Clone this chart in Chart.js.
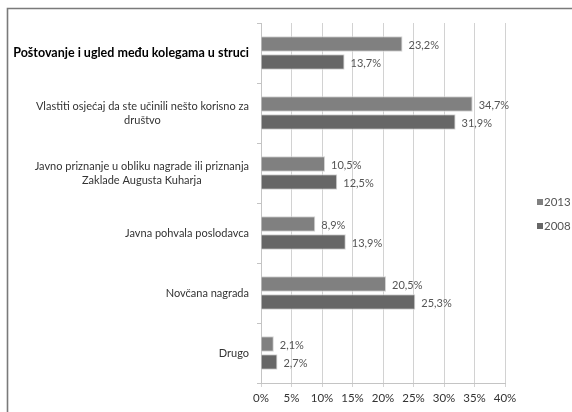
<!DOCTYPE html>
<html>
<head>
<meta charset="utf-8">
<script src="https://cdn.jsdelivr.net/npm/chart.js@4/dist/chart.umd.min.js"></script>
<style>
  html, body { margin: 0; padding: 0; background: #fff; }
  #wrap { position: relative; width: 572px; height: 412px; }
</style>
</head>
<body>
<div id="wrap"><canvas id="nagradeChart" width="572" height="412"></canvas></div>
<script>
// Kategorije (višeredne oznake kao polja)
const kategorije = [
  ["Poštovanje i ugled među kolegama u struci"],
  ["Vlastiti osjećaj da ste učinili nešto korisno za", "društvo"],
  ["Javno priznanje u obliku nagrade ili priznanja", "Zaklade Augusta Kuharja"],
  ["Javna pohvala poslodavca"],
  ["Novčana nagrada"],
  ["Drugo"],
];

const vrijednosti2013 = [23.2, 34.7, 10.5, 8.9, 20.5, 2.1];
const vrijednosti2008 = [13.7, 31.9, 12.5, 13.9, 25.3, 2.7];

const xOznake = [0, 5, 10, 15, 20, 25, 30, 35, 40];

const FONT = "Lato, 'Liberation Sans', sans-serif";

// Okvir oko grafikona
const okvirPlugin = {
  id: "okvir",
  afterDraw(chart) {
    const ctx = chart.ctx;
    ctx.save();
    ctx.strokeStyle = "#7a7a7a";
    ctx.lineWidth = 1.6;
    ctx.beginPath();
    ctx.moveTo(7.5, 412);
    ctx.lineTo(7.5, 8.5);
    ctx.lineTo(572, 8.5);
    ctx.stroke();
    ctx.restore();
  },
};

// Oznake kategorija: blok poravnat desno, redovi centrirani unutar bloka
const oznakePlugin = {
  id: "oznake",
  afterDraw(chart) {
    const ctx = chart.ctx;
    const y = chart.scales.y;
    const desno = y.right - 12;
    ctx.save();
    ctx.textBaseline = "middle";
    ctx.textAlign = "center";
    kategorije.forEach((redovi, i) => {
      const prvi = i === 0;
      ctx.font = prvi ? `bold 12.5px ${FONT}` : `11px ${FONT}`;
      ctx.fillStyle = prvi ? "#000" : "#333";
      const sirina = Math.max(...redovi.map((r) => ctx.measureText(r).width));
      const cx = desno - sirina / 2;
      const cy = y.getPixelForTick(i);
      const lh = 14;
      redovi.forEach((r, j) => {
        ctx.fillText(r, cx, cy + (j - (redovi.length - 1) / 2) * lh);
      });
    });
    ctx.restore();
  },
};

// Vrijednosti uz stupce
const vrijednostiPlugin = {
  id: "vrijednosti",
  afterDatasetsDraw(chart) {
    const ctx = chart.ctx;
    ctx.save();
    ctx.font = `11px ${FONT}`;
    ctx.fillStyle = "#555";
    ctx.textBaseline = "middle";
    ctx.textAlign = "left";
    chart.data.datasets.forEach((ds, di) => {
      chart.getDatasetMeta(di).data.forEach((bar, i) => {
        const txt = ds.data[i].toFixed(1).replace(".", ",") + "%";
        ctx.fillText(txt, bar.x + 6, bar.y + 1);
      });
    });
    ctx.restore();
  },
};

// Legenda desno
const legendaPlugin = {
  id: "legenda",
  afterDraw(chart) {
    const ctx = chart.ctx;
    ctx.save();
    ctx.font = `11.5px ${FONT}`;
    ctx.textBaseline = "middle";
    ctx.textAlign = "left";
    chart.data.datasets.forEach((ds, i) => {
      const cy = 202 + i * 24;
      ctx.fillStyle = ds.backgroundColor;
      ctx.fillRect(537, cy - 3, 6, 6);
      ctx.fillStyle = "#555";
      ctx.fillText(ds.label, 544, cy);
    });
    ctx.restore();
  },
};

const ctx = document.getElementById("nagradeChart").getContext("2d");

new Chart(ctx, {
  type: "bar",
  data: {
    labels: kategorije,
    datasets: [
      {
        label: "2013",
        data: vrijednosti2013,
        backgroundColor: "#808080",
        borderColor: "#d4d4d4",
        borderWidth: 1,
        categoryPercentage: 0.6,
        barPercentage: 0.86,
      },
      {
        label: "2008",
        data: vrijednosti2008,
        backgroundColor: "#676767",
        borderColor: "#d4d4d4",
        borderWidth: 1,
        categoryPercentage: 0.6,
        barPercentage: 0.86,
      },
    ],
  },
  options: {
    indexAxis: "y",
    responsive: false,
    animation: false,
    layout: {
      padding: { top: 23, right: 67, bottom: 0, left: 0 },
    },
    scales: {
      x: {
        min: 0,
        max: 40,
        afterBuildTicks: (scale) => {
          scale.ticks = xOznake.map((v) => ({ value: v }));
        },
        afterFit: (scale) => {
          scale.height = 29;
        },
        ticks: {
          callback: (v) => v + "%",
          font: { family: FONT, size: 11.5 },
          color: "#333",
          padding: 4,
          maxRotation: 0,
        },
        grid: {
          color: "#d2d2d2",
          tickLength: 4,
        },
        border: { color: "#c4c4c4" },
      },
      y: {
        afterFit: (scale) => {
          scale.width = 261;
        },
        ticks: { display: false },
        grid: {
          drawOnChartArea: false,
          drawTicks: true,
          tickLength: 4,
          offset: true,
          color: "#c4c4c4",
        },
        border: { color: "#c4c4c4" },
      },
    },
    plugins: {
      legend: { display: false },
      tooltip: { enabled: false },
    },
  },
  plugins: [okvirPlugin, oznakePlugin, vrijednostiPlugin, legendaPlugin],
});
</script>
</body>
</html>
